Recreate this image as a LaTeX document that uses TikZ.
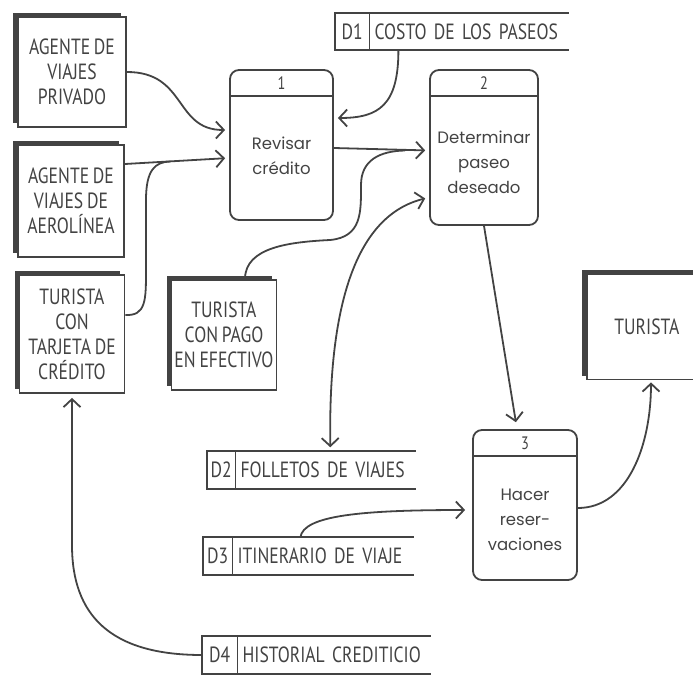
\documentclass[tikz,border=0pt]{standalone}
\usepackage{fontspec}
\setmainfont{PT Sans}
\newfontfamily\capsfont[FakeStretch=0.8, WordSpace=0.8]{PT Sans}
\newfontfamily\procfont{Poppins}
\usetikzlibrary{arrows.meta,positioning,shadows,calc}
\definecolor{ink}{HTML}{434343}

\begin{document}
\begin{tikzpicture}[
    x=1pt, y=-1pt,
    ent/.style={draw=ink, line width=1.8pt, fill=white, align=center, text=ink, inner sep=0pt,
        font=\capsfont\fontsize{22}{25}\selectfont,
        general shadow={fill=ink, shadow xshift=-5pt, shadow yshift=4pt}},
    proc/.style={draw=ink, line width=1.8pt, rounded corners=9pt, inner sep=0pt},
    ptxt/.style={align=center, text=ink, font=\procfont\fontsize{16.5}{25}\selectfont},
    pnum/.style={text=ink, font=\capsfont\fontsize{18}{18}\selectfont},
    sid/.style={anchor=west, text=ink, font=\capsfont\fontsize{22}{22}\selectfont, minimum height=37pt, inner sep=0pt},
    stxt/.style={text=ink, font=\capsfont\fontsize{22}{22}\selectfont, minimum height=37pt, inner sep=0pt, inner xsep=5pt, align=left},
    line/.style={draw=ink, line width=1.8pt},
    flow/.style={line, -{Straight Barb[length=8pt,width=17pt]}, shorten >=4pt},
    dflow/.style={line, {Straight Barb[length=8pt,width=17pt]}-{Straight Barb[length=8pt,width=17pt]}, shorten >=4pt, shorten <=4pt},
]
\useasboundingbox (0,0) rectangle (693,676);

% --- External entities ---
\node[ent, minimum width=108pt, minimum height=110pt] (e1) at (72,72)   {AGENTE DE\\VIAJES\\PRIVADO};
\node[ent, minimum width=106pt, minimum height=112pt] (e2) at (71,201)  {AGENTE DE\\VIAJES DE\\AEROLÍNEA};
\node[ent, minimum width=105pt, minimum height=118pt] (e3) at (72,334)  {TURISTA\\CON\\TARJETA DE\\CRÉDITO};
\node[ent, minimum width=105pt, minimum height=110pt] (e4) at (224,335) {TURISTA\\CON PAGO\\EN EFECTIVO};
\node[ent, minimum width=120pt, minimum height=105pt] (e5) at (647,327) {TURISTA};

% --- Processes ---
\node[proc, minimum width=103pt, minimum height=150pt] (p1) at (281.5,145) {};
\node[proc, minimum width=108pt, minimum height=155pt] (p2) at (484,147.5) {};
\node[proc, minimum width=104pt, minimum height=150pt] (p3) at (525,505)   {};
\foreach \p/\n in {p1/1, p2/2, p3/3} {
    \draw[line] ([yshift=-27pt]\p.north west) -- ([yshift=-27pt]\p.north east);
    \node[pnum] at ([yshift=-14pt]\p.north) {\n};
}
\node[ptxt] (p1t) at (281.5,156) {Revisar\\crédito};
\node[ptxt] (p2t) at (484,162)   {Determinar\\paseo\\deseado};
\node[ptxt] (p3t) at (525,520)   {Hacer\\reser-\\vaciones};

% --- Data stores ---
\node[sid, minimum width=34pt] (d1) at (335,31.5) {D1};
\node[stxt, text width=189pt, right=0pt of d1] (d1t) {COSTO DE LOS PASEOS};
\node[sid, minimum width=28pt] (d2) at (207,470) {D2};
\node[stxt, text width=170pt, right=0pt of d2] (d2t) {FOLLETOS DE VIAJES};
\node[sid, minimum width=29pt] (d3) at (203,556) {D3};
\node[stxt, text width=171pt, right=0pt of d3] (d3t) {ITINERARIO DE VIAJE};
\node[sid, minimum width=35pt] (d4) at (202,655) {D4};
\node[stxt, text width=183pt, right=0pt of d4] (d4t) {HISTORIAL CREDITICIO};
\foreach \d in {d1, d2, d3, d4} {
    \draw[line] (\d t.north east) -- (\d.north west) -- (\d.south west) -- (\d t.south east);
    \draw[line] (\d.north east) -- (\d.south east);
}

% --- Flows ---
\coordinate (j1) at (170,161.5);
\coordinate (j2) at (405,150.5);

\draw[flow] (e1.east) .. controls +(60,0) and +(-55,0) .. ([yshift=15pt]p1.west);
\draw[flow] ([yshift=37pt]e2.east) -- ([yshift=-13pt]p1.west);
\draw[line] ([yshift=19pt]e3.east) .. controls (146,316) and (146,300) .. (146,270)
    -- (146,200) .. controls (146,170) and (155,162) .. (j1);

\draw[flow] ([yshift=-3pt]p1.east) -- ([yshift=-3pt]p2.west);
\draw[line] ([xshift=21pt]e4.north) .. controls +(0,-32) and (290,242) .. (330,240)
    .. controls (362,237) and (361,212) .. (361,185)
    .. controls (361,160) and (380,151) .. (j2);

\draw[flow] ([xshift=29pt]d1t.south west) .. controls +(0,55) and +(45,0) .. ([yshift=27pt]p1.east);
\draw[dflow] ([xshift=95pt]d2t.north west) .. controls (328,300) and (358,215) .. ([yshift=-50pt]p2.west);

\draw[flow, shorten >=7pt] (p2.south) -- ([xshift=-8pt]p3.north);
\draw[flow, shorten >=7pt] ([xshift=68pt]d3t.north west) .. controls +(3,-22) and +(-110,0) .. ([yshift=-5pt]p3.west);
\draw[flow, shorten >=2pt] ([yshift=-3pt]p3.east) .. controls +(50,0) and +(0,65) .. ([xshift=4pt]e5.south);

\draw[flow] (d4.west) .. controls (110,655) and (72,615) .. (72,545) -- (e3.south);
\end{tikzpicture}
\end{document}
